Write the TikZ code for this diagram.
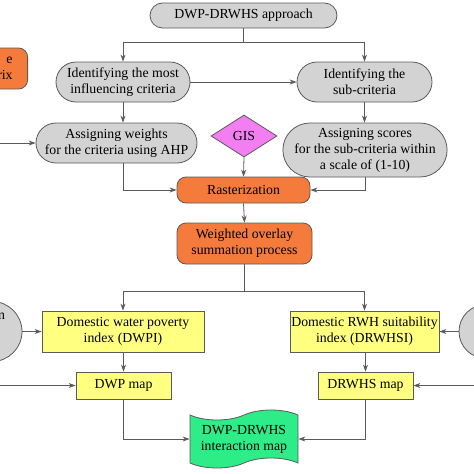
\documentclass[tikz,border=0pt]{standalone}
\usepackage{fontspec}
\setmainfont{Liberation Serif}
\usepackage{xcolor}
\usetikzlibrary{arrows.meta,shapes.misc,shapes.geometric,shapes.symbols}
\definecolor{boxgray}{HTML}{D3D3D3}
\definecolor{boxorange}{HTML}{F57B3C}
\definecolor{boxyellow}{HTML}{FFFF80}
\definecolor{boxviolet}{HTML}{F27EF2}
\definecolor{boxgreen}{HTML}{2EEC88}
\definecolor{linegray}{HTML}{5A5A5A}

\begin{document}
\begin{tikzpicture}[x=1pt,y=-1pt,>={Stealth[length=7pt,width=5pt]},
  every node/.style={font=\fontsize{13.8}{16}\selectfont,align=center,inner sep=0pt},
  grau/.style={rounded rectangle,draw=linegray,fill=boxgray,line width=0.8pt},
  orange/.style={rectangle,rounded corners=9pt,draw=linegray,fill=boxorange,line width=0.8pt},
  gelb/.style={rectangle,draw=linegray,fill=boxyellow,line width=0.8pt},
  pfeil/.style={->,draw=linegray,line width=0.8pt}]
  \useasboundingbox (0,0) rectangle (474,474);
  % Kriterien
  \node[grau,minimum width=187,minimum height=25] (top) at (243.5,15.5) {DWP-DRWHS approach};
  \node[grau,minimum width=134,minimum height=40] (idc) at (123,82) {Identifying the most\\influencing criteria};
  \node[grau,minimum width=135,minimum height=40] (isc) at (364.5,82) {Identifying the\\sub-criteria};
  \node[grau,minimum width=161,minimum height=40] (awc) at (116.5,143) {Assigning weights\\for the criteria using AHP};
  \node[grau,minimum width=162,minimum height=54] (asc) at (365,150) {Assigning scores\\for the sub-criteria within\\a scale of (1-10)};
  \node[orange,anchor=east,text width=70,inner xsep=15,minimum height=41,align=right] (pcm) at (28,68.5) {e\\rix};
  \node[diamond,draw=linegray,fill=boxviolet,line width=0.8pt,minimum width=66,minimum height=42] (gis) at (244,136) {GIS};
  % Verarbeitung
  \node[orange,minimum width=133,minimum height=26] (rast) at (243.5,190) {Rasterization};
  \node[orange,minimum width=135,minimum height=41] (wos) at (244.5,243.5) {Weighted overlay\\summation process};
  % Indizes
  \node[gelb,minimum width=162,minimum height=41] (dwpi) at (123,331.5) {Domestic water poverty\\index (DWPI)};
  \node[gelb,minimum width=149,minimum height=41] (drwhsi) at (364.5,331.5) {Domestic RWH suitability\\index (DRWHSI)};
  \node[gelb,minimum width=95,minimum height=27] (dwpmap) at (123.5,385.5) {DWP map};
  \node[gelb,minimum width=95,minimum height=27] (drwhsmap) at (365.5,385.5) {DRWHS map};
  \node[tape,draw=linegray,fill=boxgreen,line width=0.8pt,minimum width=108,minimum height=58,tape bend height=10pt] (imap) at (244,439) {DWP-DRWHS\\interaction map};
  % Kreise am Rand
  \node[circle,draw=linegray,fill=boxgray,line width=0.8pt,minimum size=60] (lcirc) at (-8,331.5) {};
  \node[anchor=west] (ltext) at (-2,316) {n};
  \node[circle,draw=linegray,fill=boxgray,line width=0.8pt,minimum size=54] (rcirc) at (486,331.5) {};
  \coordinate (split1) at (243.5,42);
  \coordinate (split2) at (244.5,291);
  \coordinate (lin1) at (-5,143);
  \coordinate (lin2) at (-5,385.5);
  \coordinate (rin) at (479,385.5);
  % Pfeile
  \draw[pfeil] (top.south) -- (split1) -| (idc.north);
  \draw[pfeil] (split1) -| (isc.north);
  \draw[pfeil] (idc.east) -- (isc.west);
  \draw[pfeil] (idc.south) -- (idc.south |- awc.north);
  \draw[pfeil] (isc.south) -- (isc.south |- asc.north);
  \draw[pfeil] (lin1) -- (awc.west);
  \draw[pfeil] (idc.south |- awc.south) |- (rast.west);
  \draw[pfeil] (asc.south) |- (rast.east);
  \draw[pfeil] (gis.south) -- (rast.north);
  \draw[pfeil] (rast.south) -- (wos.north);
  \draw[pfeil] (wos.south) -- (split2) -| (dwpi.north);
  \draw[pfeil] (split2) -| (drwhsi.north);
  \draw[pfeil] (lcirc.east) -- (dwpi.west);
  \draw[pfeil] (rcirc.west) -- (drwhsi.east);
  \draw[pfeil] (dwpi.south -| dwpmap.north) -- (dwpmap.north);
  \draw[pfeil] (drwhsi.south -| drwhsmap.north) -- (drwhsmap.north);
  \draw[pfeil] (lin2) -- (dwpmap.west);
  \draw[pfeil] (rin) -- (drwhsmap.east);
  \draw[pfeil] (dwpmap.south) |- (imap.west);
  \draw[pfeil] (drwhsmap.south) |- (imap.east);
\end{tikzpicture}
\end{document}
